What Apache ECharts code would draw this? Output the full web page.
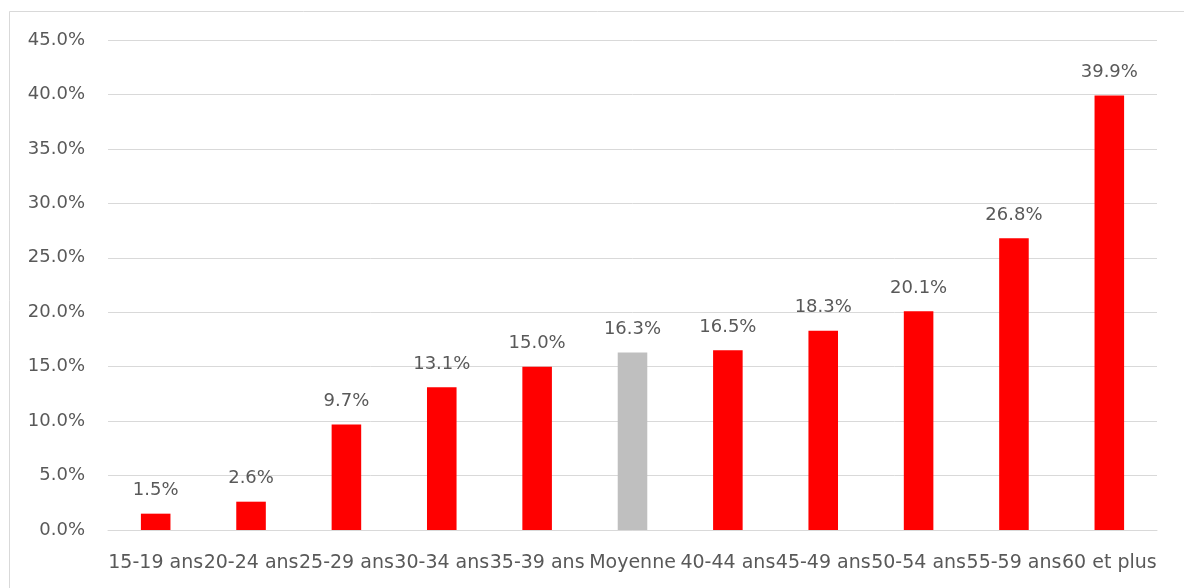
<!DOCTYPE html>
<html>
<head>
<meta charset="utf-8">
<script src="https://cdn.jsdelivr.net/npm/echarts@6/dist/echarts.min.js"></script>
<style>
  html, body { margin: 0; padding: 0; background: #fff; }
  #chart { width: 1184px; height: 588px; }
</style>
</head>
<body>
<div id="chart"></div>
<script>
// Age groups and their share (%), with the overall average in the middle
const categories = ['15-19 ans', '20-24 ans', '25-29 ans', '30-34 ans', '35-39 ans', 'Moyenne',
  '40-44 ans', '45-49 ans', '50-54 ans', '55-59 ans', '60 et plus'];
const values = [1.5, 2.6, 9.7, 13.1, 15.0, 16.3, 16.5, 18.3, 20.1, 26.8, 39.9];
const averageLabel = 'Moyenne';

const RED = '#ff0000';
const GREY = '#bfbfbf';
const TEXT = '#595959';
const FONT = 'DejaVu Sans';

const chart = echarts.init(document.getElementById('chart'), null, { renderer: 'canvas' });

chart.setOption({
  animation: false,
  backgroundColor: '#ffffff',
  graphic: [{
    type: 'rect',
    silent: true,
    shape: { x: 9.5, y: 11.5, width: 1200, height: 620 },
    style: { fill: 'none', stroke: '#d9d9d9', lineWidth: 1 }
  }],
  grid: { left: 108, right: 27, top: 40, bottom: 58, containLabel: false },
  xAxis: {
    type: 'category',
    data: categories,
    axisLine: { show: true, lineStyle: { color: '#d9d9d9', width: 1 } },
    axisTick: { show: false },
    axisLabel: { interval: 0, color: TEXT, fontFamily: FONT, fontSize: 19, margin: 24, hideOverlap: false }
  },
  yAxis: {
    type: 'value',
    min: 0,
    max: 45,
    interval: 5,
    axisLine: { show: false },
    axisTick: { show: false },
    splitLine: { lineStyle: { color: '#d9d9d9', width: 1 } },
    axisLabel: {
      color: TEXT, fontFamily: FONT, fontSize: 18, margin: 23,
      formatter: v => v.toFixed(1) + '%'
    }
  },
  series: [{
    type: 'bar',
    barWidth: '31%',
    data: values.map((v, i) => ({
      value: v,
      itemStyle: { color: categories[i] === averageLabel ? GREY : RED }
    })),
    label: {
      show: true,
      position: 'top',
      distance: 14,
      color: TEXT,
      fontFamily: FONT,
      fontSize: 18,
      formatter: p => p.value.toFixed(1) + '%'
    }
  }]
});
</script>
</body>
</html>
